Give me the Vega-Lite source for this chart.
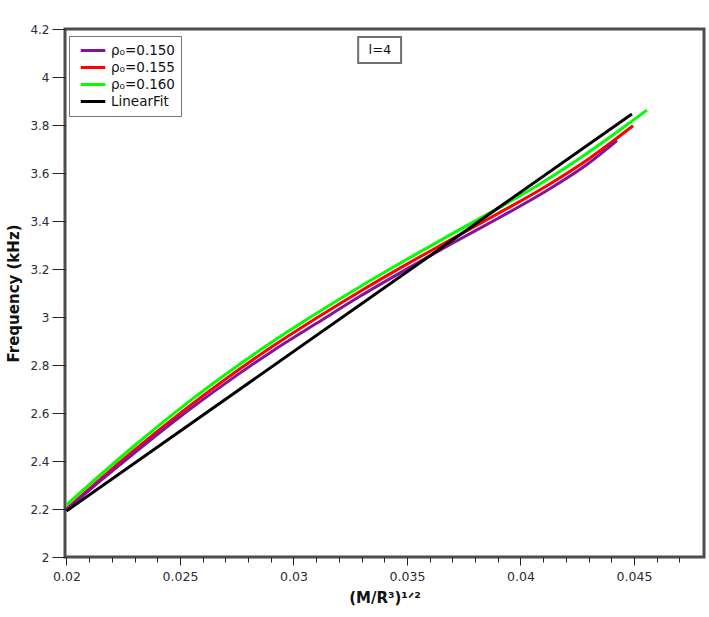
{
  "$schema": "https://vega.github.io/schema/vega-lite/v6.json",
  "width": 639,
  "height": 528,
  "autosize": {"type": "none"},
  "padding": {"left": 65, "top": 29, "right": 5, "bottom": 60},
  "background": "white",
  "config": {
    "font": "DejaVu Sans",
    "view": {"stroke": "#4d4d4d", "strokeWidth": 3},
    "axis": {"labelFont": "DejaVu Sans", "labelColor": "#2b2b3b", "labelFontSize": 12, "titleFont": "DejaVu Sans", "titleFontWeight": "bold", "titleFontSize": 15, "titleColor": "#111", "tickColor": "#222", "grid": false, "domain": false, "labelOverlap": false}
  },
  "resolve": {"axis": {"x": "independent"}},
  "datasets": {
    "curves": [
      {"series": "ρ₀=0.160", "x": 0.0200, "y": 2.217},
      {"series": "ρ₀=0.160", "x": 0.0215, "y": 2.343},
      {"series": "ρ₀=0.160", "x": 0.0230, "y": 2.4645},
      {"series": "ρ₀=0.160", "x": 0.0250, "y": 2.6185},
      {"series": "ρ₀=0.160", "x": 0.0270, "y": 2.7605},
      {"series": "ρ₀=0.160", "x": 0.0290, "y": 2.8925},
      {"series": "ρ₀=0.160", "x": 0.0310, "y": 3.0145},
      {"series": "ρ₀=0.160", "x": 0.0330, "y": 3.1305},
      {"series": "ρ₀=0.160", "x": 0.0350, "y": 3.2405},
      {"series": "ρ₀=0.160", "x": 0.0370, "y": 3.3475},
      {"series": "ρ₀=0.160", "x": 0.0390, "y": 3.4525},
      {"series": "ρ₀=0.160", "x": 0.0410, "y": 3.5625},
      {"series": "ρ₀=0.160", "x": 0.0430, "y": 3.6865},
      {"series": "ρ₀=0.160", "x": 0.0450, "y": 3.8225},
      {"series": "ρ₀=0.160", "x": 0.04557, "y": 3.862},
      {"series": "ρ₀=0.155", "x": 0.0200, "y": 2.200},
      {"series": "ρ₀=0.155", "x": 0.0215, "y": 2.326},
      {"series": "ρ₀=0.155", "x": 0.0230, "y": 2.4465},
      {"series": "ρ₀=0.155", "x": 0.0250, "y": 2.5985},
      {"series": "ρ₀=0.155", "x": 0.0270, "y": 2.7405},
      {"series": "ρ₀=0.155", "x": 0.0290, "y": 2.8725},
      {"series": "ρ₀=0.155", "x": 0.0310, "y": 2.9945},
      {"series": "ρ₀=0.155", "x": 0.0330, "y": 3.1105},
      {"series": "ρ₀=0.155", "x": 0.0350, "y": 3.2205},
      {"series": "ρ₀=0.155", "x": 0.0370, "y": 3.3255},
      {"series": "ρ₀=0.155", "x": 0.0390, "y": 3.4305},
      {"series": "ρ₀=0.155", "x": 0.0410, "y": 3.5375},
      {"series": "ρ₀=0.155", "x": 0.0430, "y": 3.6585},
      {"series": "ρ₀=0.155", "x": 0.04496, "y": 3.797},
      {"series": "ρ₀=0.150", "x": 0.0200, "y": 2.196},
      {"series": "ρ₀=0.150", "x": 0.0215, "y": 2.318},
      {"series": "ρ₀=0.150", "x": 0.0230, "y": 2.4345},
      {"series": "ρ₀=0.150", "x": 0.0250, "y": 2.5845},
      {"series": "ρ₀=0.150", "x": 0.0270, "y": 2.7235},
      {"series": "ρ₀=0.150", "x": 0.0290, "y": 2.8535},
      {"series": "ρ₀=0.150", "x": 0.0310, "y": 2.9725},
      {"series": "ρ₀=0.150", "x": 0.0330, "y": 3.0905},
      {"series": "ρ₀=0.150", "x": 0.0350, "y": 3.2005},
      {"series": "ρ₀=0.150", "x": 0.0370, "y": 3.3075},
      {"series": "ρ₀=0.150", "x": 0.0390, "y": 3.4105},
      {"series": "ρ₀=0.150", "x": 0.0410, "y": 3.5175},
      {"series": "ρ₀=0.150", "x": 0.0430, "y": 3.6405},
      {"series": "ρ₀=0.150", "x": 0.04425, "y": 3.735},
      {"series": "LinearFit", "x": 0.0200, "y": 2.192},
      {"series": "LinearFit", "x": 0.04491, "y": 3.846}
    ],
    "note": [
      {"label": "l=4", "x": 0.03285, "x2": 0.03474, "y": 4.1667, "y2": 4.0583, "xc": 0.03381, "yc": 4.1125}
    ]
  },
  "layer": [
    {
      "data": {"name": "curves"},
      "mark": {"type": "line", "strokeWidth": 3, "interpolate": "monotone", "clip": true},
      "encoding": {
        "x": {
          "field": "x", "type": "quantitative",
          "scale": {"domain": [0.019934, 0.048084], "nice": false, "zero": false},
          "axis": {
            "orient": "bottom",
            "title": "(M/R³)¹ᐟ²",
            "values": [0.02, 0.025, 0.03, 0.035, 0.04, 0.045],
            "format": ".3~f",
            "tickSize": 8,
            "labelFontSize": 12.5,
            "labelOverlap": false,
            "labelFlush": false,
            "labelPadding": 5,
            "titlePadding": 8
          }
        },
        "y": {
          "field": "y", "type": "quantitative",
          "scale": {"domain": [2, 4.2], "nice": false, "zero": false},
          "axis": {
            "title": "Frequency (kHz)",
            "values": [2,2.05,2.1,2.15,2.2,2.25,2.3,2.35,2.4,2.45,2.5,2.55,2.6,2.65,2.7,2.75,2.8,2.85,2.9,2.95,3,3.05,3.1,3.15,3.2,3.25,3.3,3.35,3.4,3.45,3.5,3.55,3.6,3.65,3.7,3.75,3.8,3.85,3.9,3.95,4,4.05,4.1,4.15,4.2],
            "labelExpr": "abs(datum.value*5 - round(datum.value*5)) < 0.01 ? format(datum.value, '.1~f') : ''",
            "tickSize": {"condition": {"test": "abs(datum.value*5 - round(datum.value*5)) < 0.01", "value": 13}, "value": 7},
            "labelOverlap": false,
            "labelPadding": 3,
            "titlePadding": 8
          }
        },
        "color": {
          "field": "series", "type": "nominal",
          "scale": {"domain": ["ρ₀=0.150", "ρ₀=0.155", "ρ₀=0.160", "LinearFit"], "range": ["#82149a", "#ff0000", "#00ff00", "#000000"]},
          "legend": {
            "title": null, "orient": "none", "legendX": 4, "legendY": 7,
            "symbolType": "stroke", "symbolSize": 600, "symbolStrokeWidth": 3,
            "clipHeight": 17,
            "labelFontSize": 13.5, "labelColor": "#111", "rowPadding": 0,
            "padding": 6, "strokeColor": "#777", "fillColor": "white",
            "labelLimit": 200, "symbolOffset": 4
          }
        }
      }
    },
    {
      "data": {"name": "note"},
      "mark": {"type": "rect", "fill": "white", "stroke": "#6f6f6f", "strokeWidth": 2},
      "encoding": {
        "x": {
          "field": "x", "type": "quantitative",
          "axis": {
            "orient": "bottom",
            "title": null,
            "labels": false,
            "tickSize": 5,
            "values": [0.021,0.022,0.023,0.024,0.026,0.027,0.028,0.029,0.031,0.032,0.033,0.034,0.036,0.037,0.038,0.039,0.041,0.042,0.043,0.044,0.046,0.047]
          }
        },
        "x2": {"field": "x2"},
        "y": {"field": "y", "type": "quantitative"},
        "y2": {"field": "y2"}
      }
    },
    {
      "data": {"name": "note"},
      "mark": {"type": "text", "fontSize": 13, "color": "#111", "align": "center", "baseline": "middle"},
      "encoding": {
        "x": {"field": "xc", "type": "quantitative", "axis": null},
        "y": {"field": "yc", "type": "quantitative"},
        "text": {"field": "label"}
      }
    }
  ]
}
